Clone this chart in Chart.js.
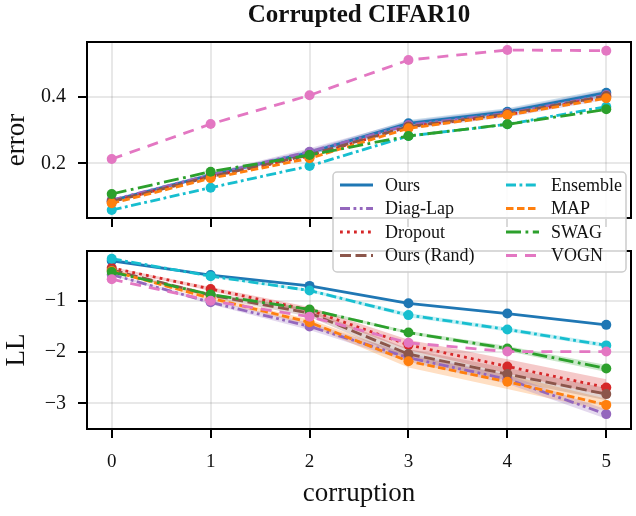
<!DOCTYPE html>
<html>
<head>
<meta charset="utf-8">
<title>Corrupted CIFAR10</title>
<script src="https://cdn.jsdelivr.net/npm/chart.js@4.4.1/dist/chart.umd.min.js"></script>
<style>
  html, body { margin: 0; padding: 0; background: #fff; }
  #wrap { position: relative; width: 636px; height: 516px; }
  #wrap canvas { position: absolute; left: 0; top: 0; }
</style>
</head>
<body>
<div id="wrap">
  <canvas id="errChart" width="636" height="516"></canvas>
  <canvas id="llChart" width="636" height="516"></canvas>
</div>
<script>
const corruption = [0, 1, 2, 3, 4, 5];
const xTicks = [0, 1, 2, 3, 4, 5];
const errTicks = [0.2, 0.4];
const llTicks = [-1, -2, -3];

const methods = ["Ours", "Diag-Lap", "Dropout", "Ours (Rand)", "Ensemble", "MAP", "SWAG", "VOGN"];

// error, one value per corruption level
const errOurs = [0.088, 0.165, 0.232, 0.320, 0.355, 0.412];
const errDiagLap = [0.090, 0.165, 0.235, 0.315, 0.350, 0.405];
const errDropout = [0.085, 0.160, 0.222, 0.310, 0.345, 0.400];
const errOursRand = [0.085, 0.160, 0.225, 0.310, 0.348, 0.402];
const errEnsemble = [0.060, 0.127, 0.192, 0.282, 0.317, 0.370];
const errMAP = [0.080, 0.155, 0.215, 0.305, 0.345, 0.395];
const errSWAG = [0.108, 0.175, 0.225, 0.282, 0.317, 0.362];
const errVOGN = [0.213, 0.318, 0.404, 0.510, 0.540, 0.538];

// log likelihood
const llOurs = [-0.22, -0.50, -0.71, -1.05, -1.25, -1.47];
const llDiagLap = [-0.49, -1.03, -1.50, -2.11, -2.53, -3.21];
const llDropout = [-0.36, -0.77, -1.18, -1.86, -2.28, -2.69];
const llOursRand = [-0.40, -0.89, -1.24, -2.04, -2.43, -2.82];
const llEnsemble = [-0.18, -0.52, -0.80, -1.28, -1.56, -1.87];
const llMAP = [-0.42, -0.95, -1.42, -2.18, -2.58, -3.03];
const llSWAG = [-0.44, -0.88, -1.17, -1.62, -1.93, -2.32];
const llVOGN = [-0.58, -1.00, -1.31, -1.82, -1.99, -1.99];

// half widths of the shaded bands (estimated)
const errOursBand = [0.004, 0.006, 0.008, 0.010, 0.010, 0.012];
const errDiagLapBand = [0.004, 0.006, 0.010, 0.012, 0.012, 0.014];
const llDiagLapBand = [0.02, 0.04, 0.07, 0.08, 0.09, 0.09];
const llDropoutBand = [0.02, 0.04, 0.06, 0.10, 0.14, 0.16];
const llOursRandBand = [0.02, 0.04, 0.07, 0.10, 0.12, 0.12];
const llMAPBand = [0.02, 0.04, 0.06, 0.12, 0.14, 0.12];
const llSWAGBand = [0.01, 0.02, 0.03, 0.03, 0.05, 0.07];
const llEnsembleBand = [0.01, 0.02, 0.03, 0.04, 0.04, 0.04];

const colors = ["#1f77b4", "#9467bd", "#d62728", "#8c564b", "#17becf", "#ff7f0e", "#2ca02c", "#e377c2"];
const dashes = [[], [10, 3.5, 2.8, 3.5, 2.8, 3.5], [2.8, 4.2], [11, 4.5], [10, 3.5, 2.8, 3.5], [7.5, 3.5], [15, 4.5, 2.8, 4.5], [11, 8]];

Chart.defaults.font.family = "'Liberation Serif', 'Times New Roman', serif";
Chart.defaults.color = "#111";

const gridColor = "rgba(0,0,0,0.09)";

function makeDatasets(series, bands) {
  const sets = series.map((vals, i) => ({
    label: methods[i],
    data: vals.map((v, k) => ({ x: corruption[k], y: v })),
    borderColor: colors[i],
    backgroundColor: colors[i],
    pointBackgroundColor: colors[i],
    borderWidth: 2.8,
    borderDash: dashes[i],
    borderJoinStyle: "round",
    pointRadius: 5,
    pointBorderWidth: 0,
    fill: false,
    order: 20 - i,
  }));
  bands.forEach(([i, half]) => {
    const vals = series[i];
    sets.push({
      data: vals.map((v, k) => ({ x: corruption[k], y: v - half[k] })),
      borderWidth: 0, pointRadius: 0, fill: false, order: 50,
    });
    sets.push({
      data: vals.map((v, k) => ({ x: corruption[k], y: v + half[k] })),
      borderWidth: 0, pointRadius: 0, fill: "-1", order: 50,
      backgroundColor: colors[i] + "40",
    });
  });
  return sets;
}

function xScale(showLabels) {
  return {
    type: "linear",
    min: -0.25,
    max: 5.25,
    afterBuildTicks: (s) => { s.ticks = xTicks.map((v) => ({ value: v })); },
    afterFit: (s) => { s.height = showLabels ? 87 : 10; },
    grid: { color: gridColor, lineWidth: 2, tickColor: "#000", tickWidth: 2, tickLength: 9 },
    border: { display: false },
    ticks: { display: showLabels, padding: 13, font: { size: 19 }, callback: (v) => String(v) },
    title: {
      display: showLabels,
      text: "corruption",
      font: { size: 27 },
      padding: { top: 0, bottom: 6 },
    },
  };
}

function yScale(min, max, tickVals, fmt) {
  return {
    type: "linear",
    min: min,
    max: max,
    afterBuildTicks: (s) => { s.ticks = tickVals.map((v) => ({ value: v })); },
    afterFit: (s) => { s.width = 87; },
    grid: { color: gridColor, lineWidth: 2, tickColor: "#000", tickWidth: 2, tickLength: 9 },
    border: { display: false },
    ticks: { padding: 12, font: { size: 20 }, callback: fmt },
  };
}

const framePlugin = {
  id: "frame",
  afterDatasetsDraw(chart) {
    const { ctx, chartArea: a } = chart;
    ctx.save();
    ctx.strokeStyle = "#000";
    ctx.lineWidth = 2;
    ctx.strokeRect(a.left, a.top, a.right - a.left, a.bottom - a.top);
    ctx.restore();
  },
};

function yLabelPlugin(text, dy) {
  return {
    id: "ylabel",
    afterDraw(chart) {
      const { ctx, chartArea: a } = chart;
      ctx.save();
      ctx.translate(17, (a.top + a.bottom) / 2 + dy);
      ctx.rotate(-Math.PI / 2);
      ctx.font = "27px 'Liberation Serif', serif";
      ctx.fillStyle = "#111";
      ctx.textAlign = "center";
      ctx.textBaseline = "middle";
      ctx.fillText(text, 0, 0);
      ctx.restore();
    },
  };
}

// legend box spans both panels, so it is drawn on the lower (top-most) canvas
const legendPlugin = {
  id: "sharedLegend",
  afterDraw(chart) {
    const ctx = chart.ctx;
    const left = 333, top = 172, w = 293, h = 100;
    ctx.save();
    ctx.beginPath();
    ctx.roundRect(left, top, w, h, 4);
    ctx.fillStyle = "rgba(255,255,255,0.85)";
    ctx.fill();
    ctx.strokeStyle = "#cccccc";
    ctx.lineWidth = 1.5;
    ctx.stroke();
    ctx.font = "18px 'Liberation Serif', serif";
    ctx.textBaseline = "middle";
    ctx.textAlign = "left";
    methods.forEach((name, i) => {
      const col = i < 4 ? 0 : 1;
      const row = i % 4;
      const x0 = left + 7 + col * 166;
      const y = top + 13 + row * 23.5;
      ctx.beginPath();
      ctx.setLineDash(dashes[i]);
      ctx.strokeStyle = colors[i];
      ctx.lineWidth = 2.8;
      ctx.moveTo(x0, y);
      ctx.lineTo(x0 + 33, y);
      ctx.stroke();
      ctx.setLineDash([]);
      ctx.fillStyle = "#111";
      ctx.fillText(name, x0 + 45, y + 1);
    });
    ctx.restore();
  },
};

const errChart = new Chart(document.getElementById("errChart"), {
  type: "line",
  data: {
    datasets: makeDatasets(
      [errOurs, errDiagLap, errDropout, errOursRand, errEnsemble, errMAP, errSWAG, errVOGN],
      [[0, errOursBand], [1, errDiagLapBand]]
    ),
  },
  options: {
    responsive: false,
    animation: false,
    events: [],
    layout: { padding: { left: 0, right: 4, top: 0, bottom: 288 } },
    scales: {
      x: xScale(false),
      y: yScale(0.036, 0.564, errTicks, (v) => v.toFixed(1)),
    },
    plugins: {
      legend: { display: false },
      tooltip: { enabled: false },
      title: {
        display: true,
        text: "Corrupted CIFAR10",
        fullSize: false,
        font: { size: 25, weight: "bold" },
        padding: { top: 1, bottom: 11 },
      },
    },
  },
  plugins: [framePlugin, yLabelPlugin("error", 10)],
});

const llChart = new Chart(document.getElementById("llChart"), {
  type: "line",
  data: {
    datasets: makeDatasets(
      [llOurs, llDiagLap, llDropout, llOursRand, llEnsemble, llMAP, llSWAG, llVOGN],
      [[1, llDiagLapBand], [2, llDropoutBand], [3, llOursRandBand], [5, llMAPBand], [6, llSWAGBand], [4, llEnsembleBand]]
    ),
  },
  options: {
    responsive: false,
    animation: false,
    events: [],
    layout: { padding: { left: 0, right: 4, top: 251, bottom: 0 } },
    scales: {
      x: xScale(true),
      y: yScale(-3.5, -0.03, llTicks, (v) => "\u2212" + Math.abs(v)),
    },
    plugins: {
      legend: { display: false },
      tooltip: { enabled: false },
    },
  },
  plugins: [framePlugin, yLabelPlugin("LL", 10), legendPlugin],
});
</script>
</body>
</html>
